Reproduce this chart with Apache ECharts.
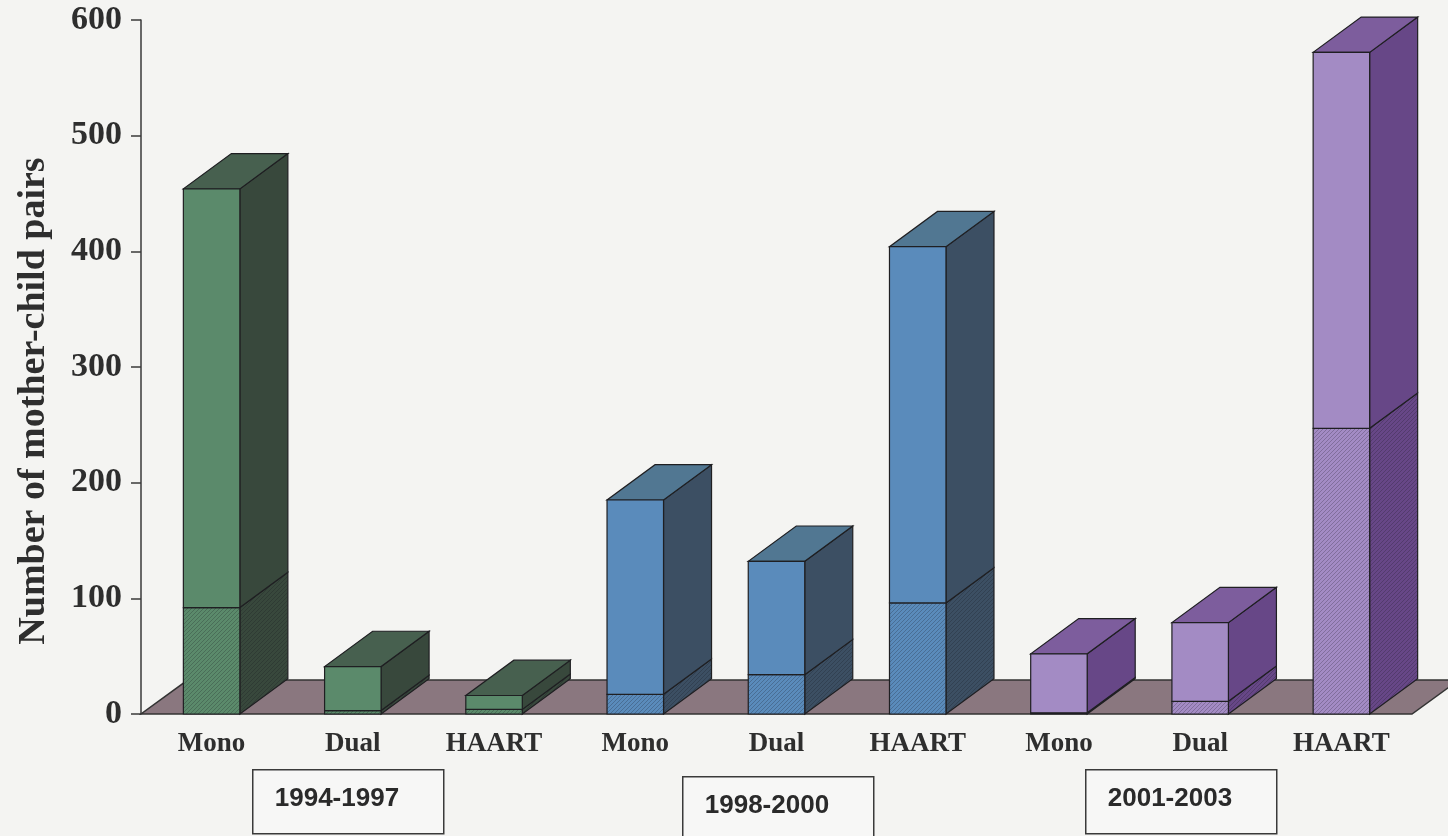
<!DOCTYPE html>
<html>
<head>
<meta charset="utf-8">
<title>Mother-child pairs by regimen</title>
<script src="https://cdn.jsdelivr.net/npm/echarts@6/dist/echarts.min.js"></script>
<style>
  html, body { margin: 0; padding: 0; background: #f4f4f2; }
  #chart { width: 1448px; height: 836px; }
</style>
</head>
<body>
<div id="chart"></div>
<script>
// regimen under each bar
var categories = ['Mono', 'Dual', 'HAART', 'Mono', 'Dual', 'HAART', 'Mono', 'Dual', 'HAART'];
// hatched (lower) part of each stack
var lowerValues = [92, 3, 4, 17, 34, 96, 1, 11, 247];
// plain (upper) part of each stack
var upperValues = [362, 38, 12, 168, 98, 308, 51, 68, 325];
// period boxes under the axis
var periods = ['1994-1997', '1998-2000', '2001-2003'];
var yTicks = [0, 100, 200, 300, 400, 500, 600];

// front / side / top colours per period
var palette = [
  { front: '#5b8a6b', side: '#38483c', top: '#47604f' },
  { front: '#5a8bbb', side: '#3c4f63', top: '#517792' },
  { front: '#a38bc4', side: '#674787', top: '#7d5d9d' }
];

function hatch(color) {
  var c = document.createElement('canvas');
  c.width = 4; c.height = 4;
  var ctx = c.getContext('2d');
  ctx.fillStyle = color;
  ctx.fillRect(0, 0, 4, 4);
  ctx.strokeStyle = 'rgba(20,20,30,0.3)';
  ctx.lineWidth = 0.8;
  ctx.beginPath();
  ctx.moveTo(0, 4); ctx.lineTo(4, 0);
  ctx.moveTo(-1, 1); ctx.lineTo(1, -1);
  ctx.moveTo(3, 5); ctx.lineTo(5, 3);
  ctx.stroke();
  return { image: c, repeat: 'repeat' };
}

var edge = '#1f1f22';

function renderFloor(params, api) {
  var cs = params.coordSys;
  var band = api.size([1, 0])[0];
  var dx = band * 0.33, dy = -band * 0.24;
  var by = api.coord([0, 0])[1];
  var x0 = cs.x, x1 = cs.x + cs.width;
  return {
    type: 'polygon',
    shape: { points: [[x0, by], [x1, by], [x1 + dx, by + dy], [x0 + dx, by + dy]] },
    style: { fill: '#8a777f', stroke: '#333', lineWidth: 1.5 }
  };
}

function renderBar(params, api) {
  var i = api.value(0);
  var lo = api.value(1), hi = api.value(2);
  var band = api.size([1, 0])[0];
  var w = band * 0.4;
  var dx = band * 0.34, dy = -band * 0.25;
  var base = api.coord([i, 0]);
  var mid = api.coord([i, lo]);
  var top = api.coord([i, lo + hi]);
  var x0 = base[0] - w / 2, x1 = base[0] + w / 2;
  var col = palette[Math.floor(i / 3)];
  var st = { stroke: edge, lineWidth: 1.2 };
  function s(fill) { return Object.assign({ fill: fill }, st); }
  return {
    type: 'group',
    children: [
      { type: 'polygon', shape: { points: [[x1, base[1]], [x1 + dx, base[1] + dy], [x1 + dx, mid[1] + dy], [x1, mid[1]]] }, style: s(hatch(col.side)) },
      { type: 'polygon', shape: { points: [[x1, mid[1]], [x1 + dx, mid[1] + dy], [x1 + dx, top[1] + dy], [x1, top[1]]] }, style: s(col.side) },
      { type: 'polygon', shape: { points: [[x0, top[1]], [x1, top[1]], [x1 + dx, top[1] + dy], [x0 + dx, top[1] + dy]] }, style: s(col.top) },
      { type: 'rect', shape: { x: x0, y: mid[1], width: w, height: base[1] - mid[1] }, style: s(hatch(col.front)) },
      { type: 'rect', shape: { x: x0, y: top[1], width: w, height: mid[1] - top[1] }, style: s(col.front) }
    ]
  };
}

var barData = categories.map(function (c, i) {
  return [i, lowerValues[i], upperValues[i]];
});

var boxPos = [[252, 769], [682, 776], [1085, 769]];
var graphics = periods.map(function (p, k) {
  return {
    type: 'group',
    left: boxPos[k][0], top: boxPos[k][1],
    children: [
      { type: 'rect', shape: { x: 0, y: 0, width: 191, height: 64 },
        style: { fill: 'rgba(255,255,255,0.3)', stroke: '#3a3a3a', lineWidth: 1.5 } },
      { type: 'text', x: 22, y: 29,
        style: { text: p, font: 'bold 26px "Liberation Sans", Arial, sans-serif', fill: '#2a2a2a', verticalAlign: 'middle' } }
    ]
  };
});

var chart = echarts.init(document.getElementById('chart'));
var option = {
  backgroundColor: '#f4f4f2',
  animation: false,
  grid: { left: 141, right: 36, top: 20, bottom: 122 },
  xAxis: {
    type: 'category',
    data: categories,
    axisLine: { show: false },
    axisTick: { show: false },
    axisLabel: {
      margin: 17,
      color: '#2e2e2e',
      fontFamily: '"Liberation Serif", "Times New Roman", serif',
      fontWeight: 'bold',
      fontSize: 27
    }
  },
  yAxis: {
    type: 'value',
    min: yTicks[0],
    max: yTicks[yTicks.length - 1],
    interval: 100,
    name: 'Number of mother-child pairs',
    nameLocation: 'middle',
    nameGap: 88,
    nameRotate: 90,
    nameTextStyle: {
      color: '#2e2e2e',
      fontFamily: '"Liberation Serif", "Times New Roman", serif',
      fontWeight: 'bold',
      fontSize: 38,
      padding: [0, 68, 0, 0]
    },
    axisLine: { show: true, lineStyle: { color: '#3a3a3a', width: 1.5 } },
    axisTick: { show: true, length: 10, lineStyle: { color: '#3a3a3a', width: 1.5 } },
    splitLine: { show: false },
    axisLabel: {
      margin: 19,
      color: '#2e2e2e',
      fontFamily: '"Liberation Serif", "Times New Roman", serif',
      fontWeight: 'bold',
      fontSize: 34
    }
  },
  series: [
    {
      type: 'custom',
      name: 'floor',
      renderItem: renderFloor,
      data: [[0, 0]],
      encode: { x: 0, y: 1 },
      z: 1,
      silent: true
    },
    {
      type: 'custom',
      name: 'pairs',
      renderItem: renderBar,
      data: barData,
      encode: { x: 0, y: [1, 2] },
      z: 2
    }
  ],
  graphic: graphics
};
chart.setOption(option);
</script>
</body>
</html>
